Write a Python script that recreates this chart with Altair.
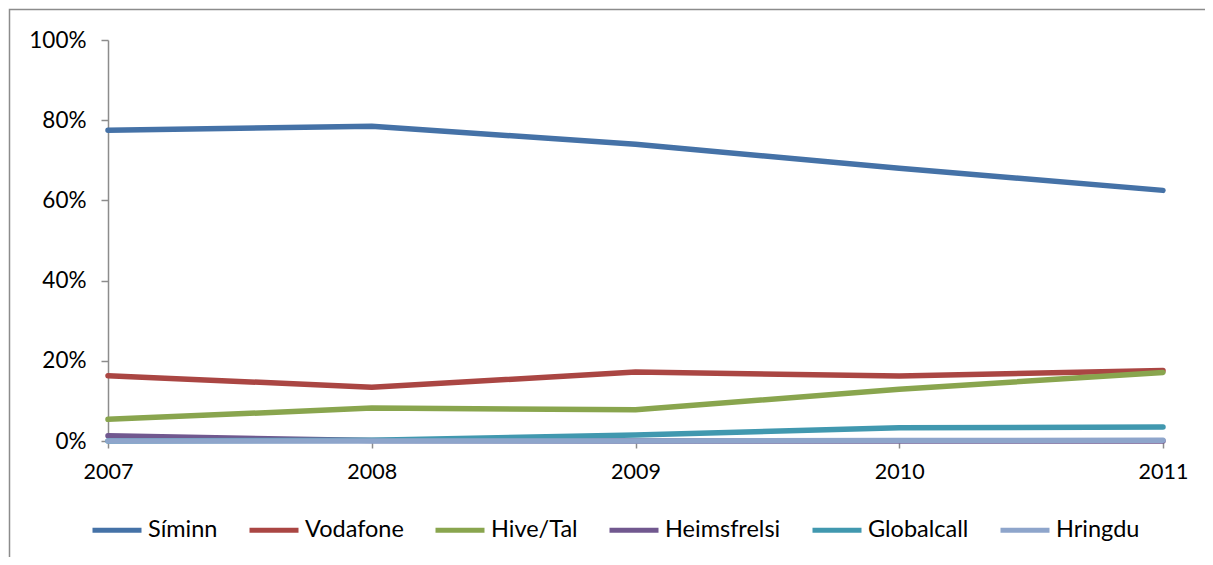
import altair as alt
import pandas as pd

years = [2007, 2008, 2009, 2010, 2011]
series_names = ["Síminn", "Vodafone", "Hive/Tal", "Heimsfrelsi", "Globalcall", "Hringdu"]
siminn = [77.5, 78.5, 74.0, 68.0, 62.5]
vodafone = [16.3, 13.4, 17.2, 16.2, 17.6]
hive_tal = [5.4, 8.2, 7.8, 12.9, 17.1]
heimsfrelsi = [1.3, 0.1, 0.0, 0.0, 0.0]
globalcall = [0.0, 0.2, 1.5, 3.3, 3.5]
hringdu = [0.0, 0.0, 0.0, 0.1, 0.2]
colors = ["#4572A7", "#AA4643", "#89A54E", "#71588F", "#4198AF", "#8EA5CB"]

values = [siminn, vodafone, hive_tal, heimsfrelsi, globalcall, hringdu]
rows = []
for i, (name, vals) in enumerate(zip(series_names, values)):
    for y, v in zip(years, vals):
        rows.append({"year": y, "share": v / 100.0, "series": name, "order": i})
df = pd.DataFrame(rows)

FONT = "Lato"
W, H = 1055, 401

frame = alt.Chart(pd.DataFrame({"a": [0]})).mark_rect(
    fill=None, stroke="#8c8c8c", strokeWidth=1.5
).encode(x=alt.value(-98.5), x2=alt.value(1200), y=alt.value(-30.5), y2=alt.value(600))

lines = alt.Chart(df).mark_line(strokeWidth=5.5, strokeCap="round", strokeJoin="round").encode(
    x=alt.X("year:Q",
            scale=alt.Scale(domain=[2007, 2011], nice=False, zero=False),
            axis=alt.Axis(values=years, format="d", title=None, grid=False,
                          tickSize=7, tickColor="#8c8c8c", domainColor="#8c8c8c",
                          domainWidth=1.5, tickWidth=1.5, labelFlush=False,
                          labelFont=FONT, labelFontSize=21.5, labelColor="#000000",
                          labelPadding=13)),
    y=alt.Y("share:Q",
            scale=alt.Scale(domain=[0, 1], nice=False),
            axis=alt.Axis(values=[0, 0.2, 0.4, 0.6, 0.8, 1.0], format=".0%", title=None,
                          grid=False, tickSize=7, tickColor="#8c8c8c",
                          domainColor="#8c8c8c", domainWidth=1.5, tickWidth=1.5,
                          labelFont=FONT, labelFontSize=22.5, labelColor="#000000",
                          labelPadding=15, labelFlush=False)),
    color=alt.Color("series:N",
                    scale=alt.Scale(domain=series_names, range=colors),
                    sort=series_names,
                    legend=alt.Legend(title=None, orient="none", direction="horizontal",
                                      legendX=-18, legendY=463,
                                      symbolType="stroke", symbolSize=2401,
                                      symbolStrokeWidth=5, labelFont=FONT,
                                      labelFontSize=23.5, labelColor="#000000",
                                      labelOffset=4, columnPadding=21,
                                      columns=6)),
    order=alt.Order("order:Q"),
    detail="series:N",
)

chart = alt.layer(frame, lines).properties(
    width=W, height=H,
    background="white",
    autosize=alt.AutoSizeParams(type="none"),
    padding={"left": 100, "top": 32, "right": 42, "bottom": 116},
).configure_view(stroke=None).configure_axis(grid=False)

chart.save("out.html", embed_options={"renderer": "svg", "actions": False})
